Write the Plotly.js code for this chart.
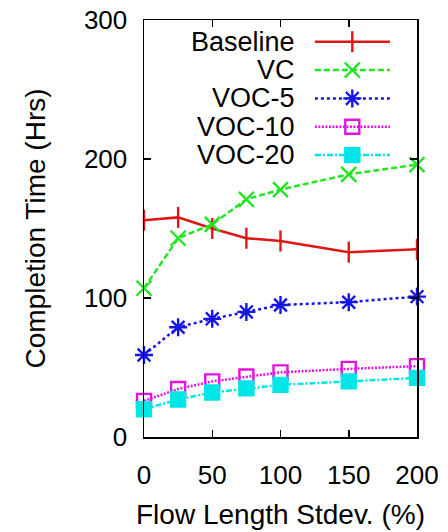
<!DOCTYPE html>
<html>
<head>
<meta charset="utf-8">
<script src="https://cdn.plot.ly/plotly-3.0.1.min.js"></script>
<style>html,body{margin:0;padding:0;background:#fff;}#chart{width:448px;height:532px;}</style>
</head>
<body>
<div id="chart"></div>
<script>
var stdev = [0, 25, 50, 75, 100, 150, 200];
var baseline = [156, 158, 150, 143, 141, 133, 135];
var vc = [107, 143, 153, 171, 178, 189, 196];
var voc5 = [59, 79, 85, 90, 95, 97, 101];
var voc10 = [26, 34.5, 40, 43.5, 46.5, 49, 51];
var voc20 = [20, 27, 32, 35, 37.5, 40, 42.5];

var seriesNames = ['Baseline', 'VC', 'VOC-5', 'VOC-10', 'VOC-20'];
var seriesValues = [baseline, vc, voc5, voc10, voc20];
var colors = ['#e01515', '#22e622', '#1515e6', '#e015e0', '#00e6e6'];
var dashes = ['solid', '6px,3px', '3px,3px', '2px,1.5px', '6px,2px,2px,2px'];
var symbols = ['line-ns-open', 'x-thin-open', 'asterisk-open', 'square-open', 'square'];
var sizes = [15, 15, 15, 14, 14];
var xTicks = [0, 50, 100, 150, 200];
var yTicks = [0, 100, 200, 300];

var FONT = 'Liberation Sans, Arial, Helvetica, sans-serif';
var traces = [];
var annotations = [];
for (var i = 0; i < seriesNames.length; i++) {
  var mk = {symbol: symbols[i], size: sizes[i], color: colors[i], line: {color: colors[i], width: 2.4}};
  traces.push({
    x: stdev, y: seriesValues[i], type: 'scatter', mode: 'lines+markers',
    name: seriesNames[i], showlegend: false, cliponaxis: false,
    line: {color: colors[i], width: 2.5, dash: dashes[i]},
    marker: mk
  });
  // hand-made legend (sample on the right of the label, as in the reference)
  var ry = 0.948 - i * 0.068;
  traces.push({
    x: [0.626, 0.901], y: [ry, ry], xaxis: 'x2', yaxis: 'y2', type: 'scatter', mode: 'lines',
    showlegend: false, hoverinfo: 'skip', cliponaxis: false,
    line: {color: colors[i], width: 2.5, dash: dashes[i]}
  });
  traces.push({
    x: [0.763], y: [ry], xaxis: 'x2', yaxis: 'y2', type: 'scatter', mode: 'markers',
    showlegend: false, hoverinfo: 'skip', cliponaxis: false, marker: mk
  });
  annotations.push({
    xref: 'paper', yref: 'paper', x: 0.56, y: ry, xanchor: 'right', yanchor: 'middle',
    text: seriesNames[i], showarrow: false, font: {family: FONT, size: 27, color: '#000'}
  });
}

var axisCommon = {
  showline: true, mirror: 'ticks', linecolor: '#000', linewidth: 1.5,
  ticks: 'inside', ticklen: 7, tickwidth: 1.5, tickcolor: '#000',
  showgrid: false, zeroline: false,
  tickfont: {family: FONT, size: 26, color: '#000'}
};

var layout = {
  width: 448, height: 532,
  margin: {l: 144, r: 31, t: 20, b: 95},
  paper_bgcolor: '#fff', plot_bgcolor: '#fff',
  xaxis: Object.assign({}, axisCommon, {
    range: [0, 200], tickvals: xTicks, ticktext: xTicks.map(String), ticklabelstandoff: 14,
    title: {text: 'Flow Length Stdev. (%)', font: {family: FONT, size: 28, color: '#000'}, standoff: 15}
  }),
  yaxis: Object.assign({}, axisCommon, {
    range: [0, 300], tickvals: yTicks, ticktext: yTicks.map(String), ticklabelstandoff: 10,
    title: {text: 'Completion Time (Hrs)', font: {family: FONT, size: 28, color: '#000'}, standoff: 30}
  }),
  xaxis2: {overlaying: 'x', range: [0, 1], visible: false, fixedrange: true},
  yaxis2: {overlaying: 'y', range: [0, 1], visible: false, fixedrange: true},
  annotations: annotations,
  showlegend: false
};

Plotly.newPlot('chart', traces, layout, {displayModeBar: false, staticPlot: true});
</script>
</body>
</html>
